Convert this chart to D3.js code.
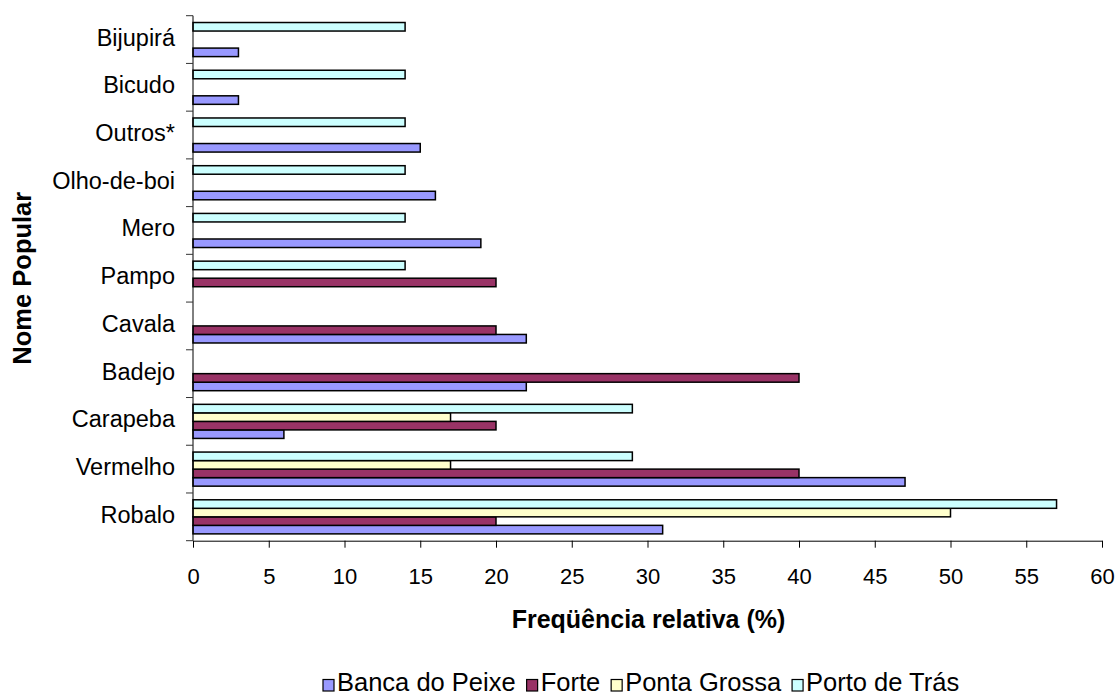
<!DOCTYPE html>
<html>
<head>
<meta charset="utf-8">
<script src="https://cdn.jsdelivr.net/npm/d3@7/dist/d3.min.js"></script>
<style>
  html, body { margin: 0; padding: 0; background: #fff; }
  svg { display: block; font-family: "Liberation Sans", Arial, sans-serif; }
</style>
</head>
<body>
<svg id="chart" width="1119" height="697"></svg>
<script>
// Fish species (bottom to top on the chart)
const categories = ["Robalo", "Vermelho", "Carapeba", "Badejo", "Cavala", "Pampo",
                    "Mero", "Olho-de-boi", "Outros*", "Bicudo", "Bijupirá"];

// Relative frequency (%) per landing site
const seriesNames = ["Banca do Peixe", "Forte", "Ponta Grossa", "Porto de Trás"];
const bancaDoPeixe = [31, 47, 6, 22, 22, 0, 19, 16, 15, 3, 3];
const forte        = [20, 40, 20, 40, 20, 20, 0, 0, 0, 0, 0];
const pontaGrossa  = [50, 17, 17, 0, 0, 0, 0, 0, 0, 0, 0];
const portoDeTras  = [57, 29, 29, 0, 0, 14, 14, 14, 14, 14, 14];
const seriesColors = ["#9999FF", "#993366", "#FFFFCC", "#CCFFFF"];

const xTicks = [0, 5, 10, 15, 20, 25, 30, 35, 40, 45, 50, 55, 60];

const seriesValues = [bancaDoPeixe, forte, pontaGrossa, portoDeTras];

const svg = d3.select("#chart");
const plot = { left: 193, right: 1102, top: 15.7, bottom: 540.7 };

const x = d3.scaleLinear().domain([0, 60]).range([plot.left, plot.right]);

// Categories from bottom (first) to top (last)
const y = d3.scaleBand()
  .domain(categories.slice().reverse())
  .range([plot.top, plot.bottom])
  .padding(0);

// Within each category: Porto de Trás on top, Banca do Peixe at the bottom
const yInner = d3.scaleBand()
  .domain(seriesNames.slice().reverse())
  .range([0, y.bandwidth()])
  .paddingInner(0)
  .paddingOuter(0.8);

const rows = [];
categories.forEach((c, i) => {
  seriesNames.forEach((s, j) => {
    rows.push({ category: c, series: s, value: seriesValues[j][i], color: seriesColors[j] });
  });
});

// Bars
svg.append("g")
  .selectAll("rect")
  .data(rows.filter(d => d.value > 0))
  .join("rect")
  .attr("x", x(0))
  .attr("y", d => y(d.category) + yInner(d.series))
  .attr("width", d => x(d.value) - x(0))
  .attr("height", yInner.bandwidth())
  .attr("fill", d => d.color)
  .attr("stroke", "#000")
  .attr("stroke-width", 1.5);

// X axis
const xAxis = svg.append("g")
  .attr("transform", `translate(0,${plot.bottom})`)
  .call(d3.axisBottom(x).tickValues(xTicks).tickSize(7).tickPadding(21).tickSizeOuter(0));
xAxis.select(".domain").attr("stroke", "#000").attr("stroke-width", 1);
xAxis.selectAll(".tick line").attr("stroke", "#000");
xAxis.selectAll(".tick text")
  .attr("font-size", 22)
  .attr("font-family", "Liberation Sans, Arial, sans-serif")
  .attr("fill", "#000");

// Y axis: line with ticks at category boundaries
const yAxis = svg.append("g");
yAxis.append("line")
  .attr("x1", plot.left).attr("x2", plot.left)
  .attr("y1", plot.top).attr("y2", plot.bottom)
  .attr("stroke", "#000");
const boundaries = [plot.top].concat(categories.map(c => y(c) + y.bandwidth()));
yAxis.selectAll("line.tick")
  .data(boundaries)
  .join("line")
  .attr("class", "tick")
  .attr("x1", plot.left - 7).attr("x2", plot.left)
  .attr("y1", d => d).attr("y2", d => d)
  .attr("stroke", "#333");
yAxis.selectAll("text")
  .data(categories)
  .join("text")
  .attr("x", 175)
  .attr("y", d => y(d) + y.bandwidth() / 2 + 6)
  .attr("text-anchor", "end")
  .attr("font-size", 23.5)
  .attr("fill", "#000")
  .text(d => d);

// Axis titles
svg.append("text")
  .attr("x", (plot.left + plot.right) / 2 + 1)
  .attr("y", 628)
  .attr("text-anchor", "middle")
  .attr("font-size", 25)
  .attr("font-weight", "bold")
  .text("Freqüência relativa (%)");

svg.append("text")
  .attr("transform", `translate(31,${(plot.top + plot.bottom) / 2}) rotate(-90)`)
  .attr("text-anchor", "middle")
  .attr("font-size", 25.5)
  .attr("font-weight", "bold")
  .text("Nome Popular");

// Legend along the bottom
const legend = svg.append("g");
let lx = 323;
seriesNames.forEach((s, j) => {
  legend.append("rect")
    .attr("x", lx).attr("y", 679.5)
    .attr("width", 11).attr("height", 11.5)
    .attr("fill", seriesColors[j])
    .attr("stroke", "#000")
    .attr("stroke-width", 1.2);
  const t = legend.append("text")
    .attr("x", lx + 14).attr("y", 691)
    .attr("font-size", 25.5)
    .attr("fill", "#000")
    .text(s);
  lx += 14 + t.node().getComputedTextLength() + 11;
});
</script>
</body>
</html>
